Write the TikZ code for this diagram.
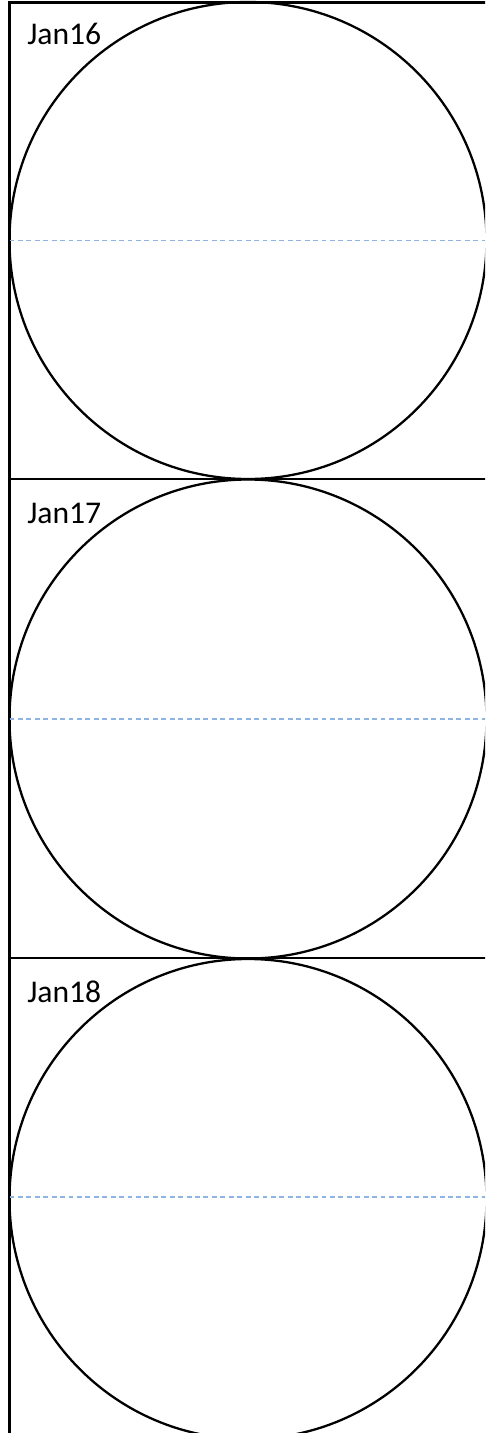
\documentclass[tikz,border=0pt]{standalone}
\usepackage{fontspec}
\setmainfont{Carlito}
\tikzset{
  cadre/.style={line width=1.3pt},
  disque/.style={line width=1.3pt},
  axe/.style={line width=0.6pt, color=bleuclair, dash pattern=on 2.8pt off 2pt},
  etiquette/.style={anchor=base west, inner sep=0pt, font=\fontsize{18}{21}\selectfont}
}
\definecolor{bleuclair}{HTML}{8DB4E2}
\begin{document}
\begin{tikzpicture}[x=0.02cm, y=-0.02cm]
    \useasboundingbox (0,0) rectangle (485,1433);
    \clip (0,0) rectangle (485,1433);

    % Points
    \coordinate (HG) at (9.5,2.5);
    \coordinate (HD) at (490,2.5);
    \coordinate (BG) at (9.5,1440);
    \coordinate (L1G) at (9.5,479);  % separation 1/2
    \coordinate (L1D) at (490,479);
    \coordinate (L2G) at (9.5,958);  % separation 2/3
    \coordinate (L2D) at (490,958);

    % Centres des cercles
    \coordinate (O1) at (248,240.5);
    \coordinate (O2) at (248,719);
    \coordinate (O3) at (248,1199);

    % Cadre
    \draw[cadre] (BG) -- (HG) -- (HD);
    \draw[cadre] (L1G) -- (L1D);
    \draw[cadre] (L2G) -- (L2D);

    % Cercles
    \draw[disque] (O1) circle [x radius=238.5, y radius=238.5];
    \draw[disque] (O2) circle [x radius=238.5, y radius=239.5];
    \draw[disque] (O3) circle [x radius=238.5, y radius=240];

    % Lignes pointillees
    \coordinate (D1) at (490,240.5);
    \coordinate (D2) at (490,719);
    \coordinate (D3) at (490,1197);
    \draw[axe] (9.5,240.5) -- (D1);
    \draw[axe] (9.5,719) -- (D2);
    \draw[axe] (9.5,1197) -- (D3);

    % Labels des jours
    \node[etiquette] (jan16) at (27,45) {Jan16};
    \node[etiquette] (jan17) at (27,523) {Jan17};
    \node[etiquette] (jan18) at (27,1002) {Jan18};

\end{tikzpicture}
\end{document}
